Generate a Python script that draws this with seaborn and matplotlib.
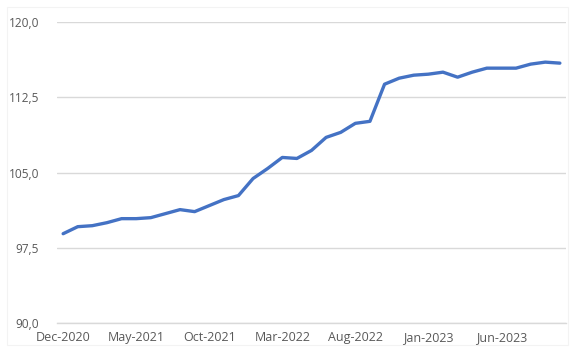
import matplotlib
matplotlib.use("Agg")
import matplotlib.pyplot as plt
import seaborn as sns
import pandas as pd
from matplotlib.patches import Rectangle

months = ["Dec-2020", "Jan-2021", "Feb-2021", "Mar-2021", "Apr-2021", "May-2021",
          "Jun-2021", "Jul-2021", "Aug-2021", "Sep-2021", "Oct-2021", "Nov-2021",
          "Dec-2021", "Jan-2022", "Feb-2022", "Mar-2022", "Apr-2022", "May-2022",
          "Jun-2022", "Jul-2022", "Aug-2022", "Sep-2022", "Oct-2022", "Nov-2022",
          "Dec-2022", "Jan-2023", "Feb-2023", "Mar-2023", "Apr-2023", "May-2023",
          "Jun-2023", "Jul-2023", "Aug-2023", "Sep-2023", "Oct-2023"]
values = [98.9, 99.6, 99.7, 100.0, 100.4, 100.4, 100.5, 100.9, 101.3, 101.1,
          101.7, 102.3, 102.7, 104.4, 105.4, 106.5, 106.4, 107.2, 108.5, 109.0,
          109.9, 110.1, 113.8, 114.4, 114.7, 114.8, 115.0, 114.5, 115.0, 115.4,
          115.4, 115.4, 115.8, 116.0, 115.9]
tick_labels = ["Dec-2020", "May-2021", "Oct-2021", "Mar-2022", "Aug-2022", "Jan-2023", "Jun-2023"]
y_ticks = [90.0, 97.5, 105.0, 112.5, 120.0]

df = pd.DataFrame({"idx": range(len(values)), "month": months, "value": values})

sns.set_theme(style="white")
plt.rcParams["font.family"] = ["Open Sans", "DejaVu Sans"]

fig = plt.figure(figsize=(5.8, 3.56), dpi=100)
ax = fig.add_axes([57/580, 1 - 323/356, (566-57)/580, (323-22)/356])

sns.lineplot(data=df, x="idx", y="value", ax=ax, color="#4472C4", linewidth=2.4,
             solid_capstyle="round", solid_joinstyle="round")

ax.set_ylim(90, 120)
ax.set_xlim(-0.42, len(values) - 1 + 0.42)
ax.set_yticks(y_ticks)
ax.set_yticklabels([f"{v:.1f}".replace(".", ",") for v in y_ticks])
tick_pos = [months.index(t) for t in tick_labels]
ax.set_xticks(tick_pos)
ax.set_xticklabels(tick_labels)
ax.yaxis.grid(True, color="#D9D9D9", linewidth=1.0)
ax.set_axisbelow(True)
for s in ["top", "right", "left"]:
    ax.spines[s].set_visible(False)
ax.spines["bottom"].set_color("#D9D9D9")
ax.spines["bottom"].set_linewidth(1.0)
ax.tick_params(axis="x", length=0, labelsize=9, colors="#595959", pad=6)
ax.tick_params(axis="y", length=0, labelsize=8.6, colors="#595959", pad=13)
ax.set_xlabel("")
ax.set_ylabel("")

fig.patches.append(Rectangle((7/580, 1 - 345/356), (568-7)/580, (345-7)/356,
                             transform=fig.transFigure, fill=False,
                             edgecolor="#F3F3F3", linewidth=0.8))

fig.savefig("out.png", dpi=100)
